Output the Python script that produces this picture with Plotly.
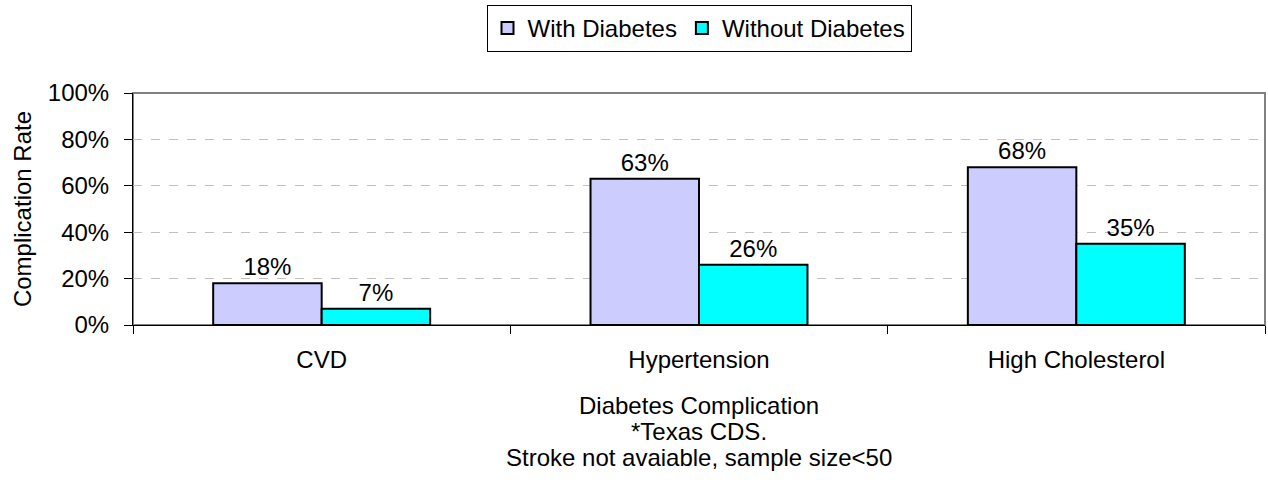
import plotly.graph_objects as go

categories = ["CVD", "Hypertension", "High Cholesterol"]
with_diabetes = [18, 63, 68]
without_diabetes = [7, 26, 35]
title_lines = ["Diabetes Complication", "*Texas CDS.", "Stroke not avaiable, sample size<50"]

font = dict(family="Liberation Sans, Arial, sans-serif", size=24, color="black")

fig = go.Figure()
fig.add_trace(go.Bar(x=categories, y=with_diabetes, name="With Diabetes",
                     marker=dict(color="#CCCCFF", line=dict(color="black", width=2)),
                     text=[f"{v}%" for v in with_diabetes], textposition="outside",
                     cliponaxis=False, textfont=font))
fig.add_trace(go.Bar(x=categories, y=without_diabetes, name="Without Diabetes",
                     marker=dict(color="#00FFFF", line=dict(color="black", width=2)),
                     text=[f"{v}%" for v in without_diabetes], textposition="outside",
                     cliponaxis=False, textfont=font))

# x-axis title lines, one annotation per line
annots = []
for i, line in enumerate(title_lines):
    annots.append(dict(text=line, xref="paper", yref="paper", x=0.5, y=-0.345 - 0.112 * i,
                       xanchor="center", yanchor="middle", showarrow=False, font=font))
annots.append(dict(text="Complication Rate", xref="paper", yref="paper", x=-0.098, y=0.5,
                   xanchor="center", yanchor="middle", textangle=-90, showarrow=False, font=font))

fig.update_layout(
    width=1268, height=484,
    margin=dict(l=133, r=3, t=93, b=159, autoexpand=False),
    paper_bgcolor="white", plot_bgcolor="white",
    font=font,
    barmode="group", bargap=0.425, bargroupgap=0,
    showlegend=True,
    legend=dict(orientation="h", x=0.5, xanchor="center", xref="paper",
                y=0.99, yanchor="top", yref="container",
                bordercolor="black", borderwidth=1, font=font,
                traceorder="normal"),
    shapes=[dict(type="rect", xref="paper", yref="paper", x0=0, x1=1, y0=0, y1=1,
                 line=dict(color="#808080", width=2), layer="below")],
    annotations=annots,
)
fig.update_xaxes(showline=True, linecolor="black", linewidth=1, automargin=False,
                 ticks="outside", tickson="boundaries", ticklen=8, tickcolor="black",
                 ticklabelstandoff=13, showgrid=False)
fig.update_yaxes(range=[0, 100], dtick=20, ticksuffix="%", automargin=False,
                 showline=True, linecolor="black", linewidth=1,
                 ticks="outside", ticklen=8, tickcolor="black", ticklabelstandoff=10,
                 showgrid=True, gridcolor="#C0C0C0", griddash="dash", gridwidth=1,
                 zeroline=False)

fig.write_html("out.html", config={"responsive": False, "displayModeBar": False},
               post_script="document.body.style.margin='0';document.body.style.overflow='hidden';")
